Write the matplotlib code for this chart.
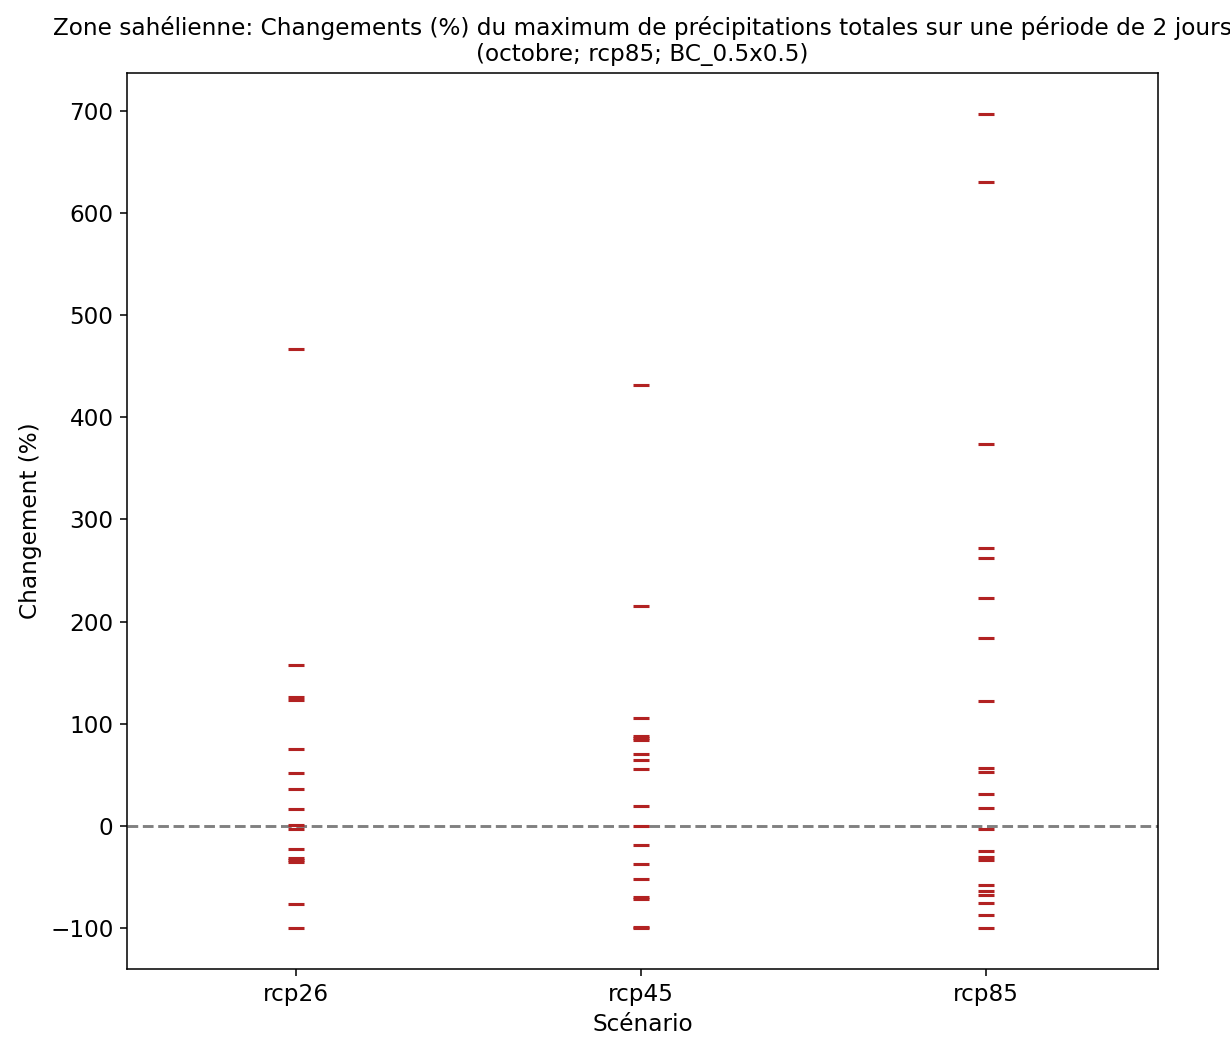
import numpy as np
import matplotlib
matplotlib.use('Agg')
import matplotlib.pyplot as plt

# valeurs (changement en %)
scenarios = ['rcp26', 'rcp45', 'rcp85']
rcp26 = [467, 158, 126, 123, 75, 52, 36, 17, 1, -3, -22, -31, -33, -35, -76, -100]
rcp45 = [432, 215, 106, 88, 86, 84, 71, 65, 56, 20, 0, -19, -37, -52, -69, -71, -99, -100]
rcp85 = [697, 630, 374, 272, 262, 223, 184, 122, 57, 53, 31, 18, -3, -24, -30, -33,
         -58, -64, -67, -75, -87, -100]
values = [rcp26, rcp45, rcp85]

DPI = 139
plt.rcParams['font.size'] = 12
fig = plt.figure(figsize=(1230 / DPI, 1039 / DPI), dpi=DPI)
ax = fig.add_axes([127 / 1230, 70 / 1039, (1158 - 127) / 1230, (969 - 73) / 1039])

for i, vals in enumerate(values):
    ax.plot(np.full(len(vals), i), vals, linestyle='none', marker='_',
            markersize=8.5, markeredgewidth=1.6, color='#b22222', zorder=3)

ax.axhline(0, color='gray', linestyle='--', linewidth=1.5, zorder=2)
ax.set_xticks(range(len(scenarios)))
ax.set_xticklabels(scenarios)
ax.set_xlim(-0.49, 2.5)
ax.set_xlabel('Scénario')
ax.set_ylabel('Changement (%)')
ax.set_title('Zone sahélienne: Changements (%) du maximum de précipitations totales sur une période de 2 jours\n'
             '(octobre; rcp85; BC_0.5x0.5)', fontsize=12)

fig.savefig('out.png', dpi=DPI)
